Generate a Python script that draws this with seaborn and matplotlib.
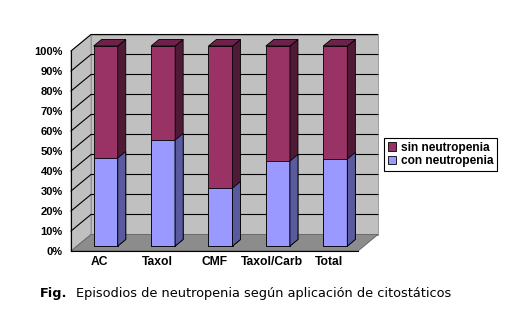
import numpy as np
import matplotlib
matplotlib.use("Agg")
import matplotlib.pyplot as plt
import matplotlib.transforms as mtransforms
from matplotlib.patches import Polygon
from matplotlib.lines import Line2D
import seaborn as sns

# Data
categories = ["AC", "Taxol", "CMF", "Taxol/Carb", "Total"]
con_neutropenia = [44.0, 53.0, 29.0, 42.5, 43.5]          # % of episodes with neutropenia
sin_neutropenia = [100 - v for v in con_neutropenia]       # % without neutropenia
y_ticks = list(range(0, 101, 10))
y_tick_labels = [f"{v}%" for v in y_ticks]

sns.set_theme(style="white")
plt.rcParams["font.family"] = ["Liberation Sans", "DejaVu Sans"]
plt.rcParams["text.color"] = "black"

W, H, DPI = 532, 331, 100
fig = plt.figure(figsize=(W / DPI, H / DPI), dpi=DPI, facecolor="white")

# Front plane of the plot (pixel geometry of the 3-D box)
left_px, right_px, bottom_px, top_px = 71, 358, 251, 51
ax = fig.add_axes([left_px / W, (H - bottom_px) / H,
                   (right_px - left_px) / W, (bottom_px - top_px) / H])
ax.set_facecolor("none")
ax.set_zorder(1)

# Depth of the oblique 3-D box in display pixels
DX, DY = 20.0, 16.5
BAR_FRONT, BAR_BACK = 0.3, 0.7

WALL = "#C0C0C0"
FLOOR = "#8C8C8C"
BLUE, BLUE_SIDE = "#9999FF", "#5A5A9E"
PLUM, PLUM_SIDE, PLUM_TOP = "#993366", "#4F1A36", "#6E2249"

total = [c + s for c, s in zip(con_neutropenia, sin_neutropenia)]

sns.barplot(x=categories, y=total, color=PLUM, saturation=1, width=0.42,
            edgecolor="black", linewidth=0.6, ax=ax, label="sin neutropenia", zorder=3)
sns.barplot(x=categories, y=con_neutropenia, color=BLUE, saturation=1, width=0.42,
            edgecolor="black", linewidth=0.6, ax=ax, label="con neutropenia", zorder=4)

ax.set_xlim(-0.5, len(categories) - 0.5)
ax.set_ylim(0, 100)
x0, x1 = ax.get_xlim()


def proj(x, y, d):
    px, py = ax.transData.transform((x, y))
    return (px + d * DX, py + d * DY)


ident = mtransforms.IdentityTransform()


def poly(pts, **kw):
    p = Polygon(pts, closed=True, transform=ident, clip_on=False, **kw)
    fig.add_artist(p)
    return p


# Walls and floor (behind the axes)
poly([proj(x0, 0, 1), proj(x1, 0, 1), proj(x1, 100, 1), proj(x0, 100, 1)],
     facecolor=WALL, edgecolor="#909090", linewidth=0.6, zorder=0.1)
poly([proj(x0, 0, 0), proj(x0, 0, 1), proj(x0, 100, 1), proj(x0, 100, 0)],
     facecolor=WALL, edgecolor="#909090", linewidth=0.6, zorder=0.1)
poly([proj(x0, 0, 0), proj(x1, 0, 0), proj(x1, 0, 1), proj(x0, 0, 1)],
     facecolor=FLOOR, edgecolor="#606060", linewidth=0.6, zorder=0.3)

# Gridlines on side and back walls
for v in y_ticks[1:]:
    pts = [proj(x0, v, 0), proj(x0, v, 1), proj(x1, v, 1)]
    fig.add_artist(Line2D([p[0] for p in pts], [p[1] for p in pts], transform=ident,
                          color="black", linewidth=0.8, zorder=0.2))

# Shift bar fronts into the box and add their side and top faces
shift = mtransforms.ScaledTranslation(BAR_FRONT * DX / DPI, BAR_FRONT * DY / DPI,
                                      fig.dpi_scale_trans)
for patch in ax.patches:
    patch.set_transform(ax.transData + shift)
    patch.set_clip_on(False)
    is_blue = patch.get_zorder() >= 4
    bx, by = patch.get_x(), patch.get_y()
    bw, bh = patch.get_width(), patch.get_height()
    xr, yt = bx + bw, by + bh
    poly([proj(xr, by, BAR_FRONT), proj(xr, by, BAR_BACK),
          proj(xr, yt, BAR_BACK), proj(xr, yt, BAR_FRONT)],
         facecolor=BLUE_SIDE if is_blue else PLUM_SIDE, edgecolor="black",
         linewidth=0.6, zorder=2 + patch.get_zorder())
    if not is_blue:
        poly([proj(bx, yt, BAR_FRONT), proj(xr, yt, BAR_FRONT),
              proj(xr, yt, BAR_BACK), proj(bx, yt, BAR_BACK)],
             facecolor=PLUM_TOP, edgecolor="black", linewidth=0.6, zorder=5)

# Axes lines, ticks and labels
for s in ["top", "right"]:
    ax.spines[s].set_visible(False)
for s in ["left", "bottom"]:
    ax.spines[s].set_color("black")
    ax.spines[s].set_linewidth(0.8)
    ax.spines[s].set_zorder(5)

ax.set_yticks(y_ticks)
ax.set_yticklabels(y_tick_labels)
ax.tick_params(axis="y", which="major", direction="out", length=4, width=0.8,
               color="black", labelsize=8, pad=2)
ax.set_xticks(range(len(categories)))
ax.set_xticklabels(categories)
ax.set_xticks(np.arange(-0.5, len(categories), 1.0), minor=True)
ax.tick_params(axis="x", which="major", length=0, labelsize=8.7, pad=3.5)
ax.tick_params(axis="x", which="minor", direction="out", length=4, width=0.8,
               color="black")
for lab in ax.get_xticklabels() + ax.get_yticklabels():
    lab.set_fontweight("bold")
    lab.set_color("black")
ax.set_xlabel("")
ax.set_ylabel("")

# Legend
handles, labels = ax.get_legend_handles_labels()
leg = ax.legend(handles, labels, loc="upper left", bbox_to_anchor=(384 / W, 1 - 138 / H),
                bbox_transform=fig.transFigure, frameon=True, fancybox=False,
                edgecolor="black", facecolor="white", framealpha=1,
                prop={"weight": "bold", "size": 8.6}, handlelength=0.7, handleheight=0.7,
                handletextpad=0.4, borderpad=0.3, labelspacing=0.15, borderaxespad=0,
                labelcolor="black")
leg.get_frame().set_linewidth(0.8)

# Caption
cap_font = ["DejaVu Sans"]
t1 = fig.text(40 / W, 1 - 297 / H, "Fig.", fontsize=9.3, fontweight="bold",
              family=cap_font, va="baseline", ha="left", color="black")
fig.canvas.draw()
bb = t1.get_window_extent()
fig.text((bb.x1 + 9) / W, 1 - 297 / H,
         "Episodios de neutropenia según aplicación de citostáticos",
         fontsize=9.3, family=cap_font, va="baseline", ha="left", color="black")

fig.savefig("out.png", dpi=DPI, facecolor="white")
